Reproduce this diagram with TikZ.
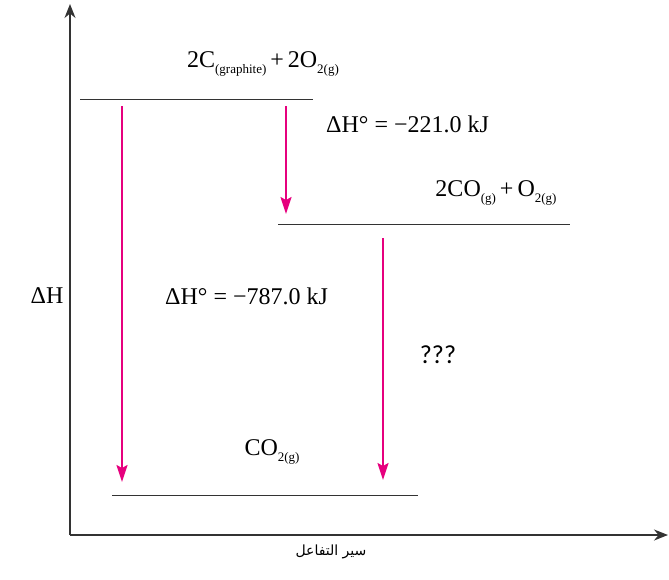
\documentclass[tikz,border=0pt]{standalone}
\usepackage{fontspec}
\setmainfont{Liberation Serif}
\newfontfamily\arabicfont[Script=Arabic]{DejaVu Sans}
\newfontfamily\calib{Carlito}
\TeXXeTstate=1
\usetikzlibrary{arrows.meta}
\definecolor{mag}{RGB}{230,0,126}
\newcommand{\sbs}[1]{\raisebox{-0.6ex}{\fontsize{13}{13}\selectfont #1}}
\begin{document}
\begin{tikzpicture}[x=1pt,y=-1pt,
  axis/.style={line width=1.8pt,draw=black!80,-{Stealth[length=14pt,width=11pt]}},
  level/.style={line width=1pt,draw=black!80},
  down/.style={line width=1.8pt,draw=mag,-{Stealth[length=17pt,width=11pt,inset=3pt]}},
  lbl/.style={font=\fontsize{24}{24}\selectfont,inner sep=0pt},
  every node/.style={inner sep=0pt}]
\useasboundingbox (0,0) rectangle (669,579);
\coordinate (O) at (70,535);
\coordinate (Ytop) at (70,4);
\coordinate (Xend) at (668,535);
\draw[axis] (O) -- (Ytop);
\draw[axis] (O) -- (Xend);
% levels
\coordinate (L1a) at (80,99); \coordinate (L1b) at (313,99);
\coordinate (L2a) at (278,224); \coordinate (L2b) at (570,224);
\coordinate (L3a) at (112,495); \coordinate (L3b) at (418,495);
\draw[level] (L1a) -- (L1b);
\draw[level] (L2a) -- (L2b);
\draw[level] (L3a) -- (L3b);
% arrows
\coordinate (A1s) at (122,106); \coordinate (A1e) at (122,482);
\coordinate (A2s) at (286,106); \coordinate (A2e) at (286,214);
\coordinate (A3s) at (383,238); \coordinate (A3e) at (383,480);
\draw[down] (A1s) -- (A1e);
\draw[down] (A2s) -- (A2e);
\draw[down] (A3s) -- (A3e);
% labels
\node[lbl] (t1) at (263,64) {2C\sbs{(graphite)}\,+\,2O\sbs{2(g)}};
\node[lbl] (t2) at (496,193) {2CO\sbs{(g)}\,+\,O\sbs{2(g)}};
\node[lbl] (t3) at (272,452) {CO\sbs{2(g)}};
\node[lbl,anchor=west] (d1) at (326,124) {ΔH° = −221.0 kJ};
\node[lbl,anchor=west] (d2) at (165,296) {ΔH° = −787.0 kJ};
\node[lbl] (dh) at (47,296) {ΔH};
\node[font=\calib\fontsize{26}{26}\selectfont] (q) at (438,355) {???};
\node[font=\arabicfont\fontsize{14}{14}\selectfont] (ar) at (331,552) {\beginR سير التفاعل\endR};
\end{tikzpicture}
\end{document}
